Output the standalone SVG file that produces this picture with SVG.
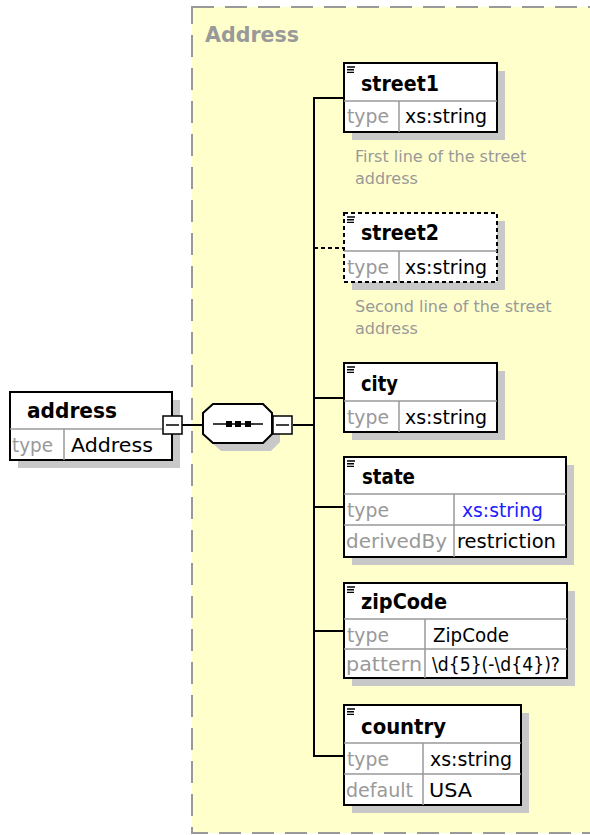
<svg xmlns="http://www.w3.org/2000/svg" width="590" height="835" viewBox="0 0 590 835">
<style>
.t{font-family:"DejaVu Sans",Verdana,sans-serif;font-size:19px;fill:#000}
.b{font-weight:bold;font-size:21px}
.lbl{fill:#999}
.blue{fill:#2020ff}
.desc{font-family:"DejaVu Sans",Verdana,sans-serif;font-size:16px;fill:#999}
.box{fill:#fff;stroke:#000;stroke-width:2}
.dbox{fill:#fff;stroke:#000;stroke-width:2;stroke-dasharray:4 3}
.sh{fill:#c8c8c8}
.div{stroke:#999;stroke-width:1.5;fill:none}
.con{stroke:#000;stroke-width:2;fill:none}
.ic{stroke:#000;stroke-width:1.4}
</style>
<rect width="590" height="835" fill="#fff"/>
<g id="type-Address">
<rect x="192" y="7" width="420" height="826" fill="#ffffcc" stroke="#999" stroke-width="2" stroke-dasharray="22 11"/>
<text class="t b" x="205" y="42" style="fill:#999" textLength="94" lengthAdjust="spacingAndGlyphs">Address</text>
</g>
<g id="connectors">
<line class="con" x1="182" y1="425" x2="203" y2="425"/>
<line class="con" x1="293" y1="425" x2="314" y2="425"/>
<line class="con" x1="314" y1="97" x2="314" y2="757"/>
<line class="con" x1="314" y1="98" x2="344" y2="98"/>
<line class="con" x1="314" y1="248" x2="344" y2="248" stroke-dasharray="4 3"/>
<line class="con" x1="314" y1="398" x2="344" y2="398"/>
<line class="con" x1="314" y1="507" x2="344" y2="507"/>
<line class="con" x1="314" y1="631" x2="344" y2="631"/>
<line class="con" x1="314" y1="756" x2="344" y2="756"/>
</g>
<g id="address">
<rect class="sh" x="18" y="400" width="162" height="68"/>
<rect class="box" x="10" y="392" width="162" height="68"/>
<line class="div" x1="10" y1="429" x2="172" y2="429"/>
<line class="div" x1="64" y1="429" x2="64" y2="460"/>
<text class="t b" x="27" y="418" textLength="90" lengthAdjust="spacingAndGlyphs">address</text>
<text class="t lbl" x="12" y="452" textLength="41" lengthAdjust="spacingAndGlyphs">type</text>
<text class="t" x="71" y="452" textLength="82" lengthAdjust="spacingAndGlyphs">Address</text>
<rect x="163" y="416" width="19" height="18" fill="#fff" stroke="#000" stroke-width="1.5"/>
<line x1="166" y1="425" x2="179" y2="425" stroke="#000" stroke-width="1.5"/>
</g>
<g id="sequence">
<polygon class="sh" points="221,412 271,412 280,421 280,442 271,451 221,451 211,442 211,421"/>
<polygon points="213,404 263,404 272,413 272,434 263,443 213,443 203,434 203,413" fill="#fff" stroke="#000" stroke-width="2"/>
<line x1="213" y1="424" x2="263" y2="424" stroke="#000" stroke-width="1.5"/>
<rect x="226" y="421" width="6" height="6"/>
<rect x="235" y="421" width="6" height="6"/>
<rect x="245" y="421" width="6" height="6"/>
<rect x="273" y="416" width="19" height="18" fill="#fff" stroke="#000" stroke-width="1.5"/>
<line x1="276" y1="425" x2="289" y2="425" stroke="#000" stroke-width="1.5"/>
</g>
<g id="street1">
<rect class="sh" x="352" y="71" width="153" height="69"/>
<rect class="box" x="344" y="63" width="153" height="69"/>
<line class="div" x1="344" y1="101" x2="497" y2="101"/>
<line class="div" x1="399" y1="101" x2="399" y2="132"/>
<path class="ic" d="M347 67H355M347 69.7H354M347 72.4H354"/>
<text class="t b" x="361" y="91" textLength="78" lengthAdjust="spacingAndGlyphs">street1</text>
<text class="t lbl" x="347" y="123" textLength="42" lengthAdjust="spacingAndGlyphs">type</text>
<text class="t" x="405" y="123" textLength="82" lengthAdjust="spacingAndGlyphs">xs:string</text>
<text class="desc" x="355" y="162">First line of the street</text>
<text class="desc" x="355" y="184">address</text>
</g>
<g id="street2">
<rect class="sh" x="352" y="221" width="153" height="69"/>
<rect class="dbox" x="344" y="213" width="153" height="69"/>
<line class="div" x1="344" y1="251" x2="497" y2="251"/>
<line class="div" x1="399" y1="251" x2="399" y2="282"/>
<path class="ic" d="M347 217H355M347 219.7H354M347 222.4H354"/>
<text class="t b" x="361" y="240" textLength="78" lengthAdjust="spacingAndGlyphs">street2</text>
<text class="t lbl" x="347" y="274" textLength="42" lengthAdjust="spacingAndGlyphs">type</text>
<text class="t" x="405" y="274" textLength="82" lengthAdjust="spacingAndGlyphs">xs:string</text>
<text class="desc" x="355" y="312">Second line of the street</text>
<text class="desc" x="355" y="334">address</text>
</g>
<g id="city">
<rect class="sh" x="352" y="371" width="153" height="69"/>
<rect class="box" x="344" y="363" width="153" height="69"/>
<line class="div" x1="344" y1="401" x2="497" y2="401"/>
<line class="div" x1="399" y1="401" x2="399" y2="432"/>
<path class="ic" d="M347 367H355M347 369.7H354M347 372.4H354"/>
<text class="t b" x="361" y="391" textLength="37" lengthAdjust="spacingAndGlyphs">city</text>
<text class="t lbl" x="347" y="424" textLength="42" lengthAdjust="spacingAndGlyphs">type</text>
<text class="t" x="405" y="424" textLength="82" lengthAdjust="spacingAndGlyphs">xs:string</text>
</g>
<g id="state">
<rect class="sh" x="352" y="465" width="222" height="100"/>
<rect class="box" x="344" y="457" width="222" height="100"/>
<line class="div" x1="344" y1="494" x2="566" y2="494"/>
<line class="div" x1="344" y1="525" x2="566" y2="525"/>
<line class="div" x1="454" y1="494" x2="454" y2="557"/>
<path class="ic" d="M347 461H355M347 463.7H354M347 466.4H354"/>
<text class="t b" x="362" y="484" textLength="53" lengthAdjust="spacingAndGlyphs">state</text>
<text class="t lbl" x="347" y="517" textLength="42" lengthAdjust="spacingAndGlyphs">type</text>
<text class="t blue" x="462" y="517" textLength="81" lengthAdjust="spacingAndGlyphs">xs:string</text>
<text class="t lbl" x="346" y="548" textLength="101" lengthAdjust="spacingAndGlyphs">derivedBy</text>
<text class="t" x="457" y="548" textLength="99" lengthAdjust="spacingAndGlyphs">restriction</text>
</g>
<g id="zipCode">
<rect class="sh" x="352" y="591" width="223" height="95"/>
<rect class="box" x="344" y="583" width="223" height="95"/>
<line class="div" x1="344" y1="619" x2="567" y2="619"/>
<line class="div" x1="344" y1="649" x2="567" y2="649"/>
<line class="div" x1="425" y1="619" x2="425" y2="678"/>
<path class="ic" d="M347 587H355M347 589.7H354M347 592.4H354"/>
<text class="t b" x="361" y="609" textLength="86" lengthAdjust="spacingAndGlyphs">zipCode</text>
<text class="t lbl" x="347" y="642" textLength="42" lengthAdjust="spacingAndGlyphs">type</text>
<text class="t" x="433" y="642" textLength="76" lengthAdjust="spacingAndGlyphs">ZipCode</text>
<text class="t lbl" x="346" y="671" textLength="76" lengthAdjust="spacingAndGlyphs">pattern</text>
<text class="t" x="432" y="671" textLength="128" lengthAdjust="spacingAndGlyphs">\d{5}(-\d{4})?</text>
</g>
<g id="country">
<rect class="sh" x="352" y="713" width="177" height="100"/>
<rect class="box" x="344" y="705" width="177" height="100"/>
<line class="div" x1="344" y1="743" x2="521" y2="743"/>
<line class="div" x1="344" y1="774" x2="521" y2="774"/>
<line class="div" x1="423" y1="743" x2="423" y2="805"/>
<path class="ic" d="M347 709H355M347 711.7H354M347 714.4H354"/>
<text class="t b" x="361" y="734" textLength="85" lengthAdjust="spacingAndGlyphs">country</text>
<text class="t lbl" x="347" y="766" textLength="42" lengthAdjust="spacingAndGlyphs">type</text>
<text class="t" x="430" y="766" textLength="82" lengthAdjust="spacingAndGlyphs">xs:string</text>
<text class="t lbl" x="346" y="797" textLength="67" lengthAdjust="spacingAndGlyphs">default</text>
<text class="t" x="429" y="797" textLength="43" lengthAdjust="spacingAndGlyphs">USA</text>
</g>
</svg>
